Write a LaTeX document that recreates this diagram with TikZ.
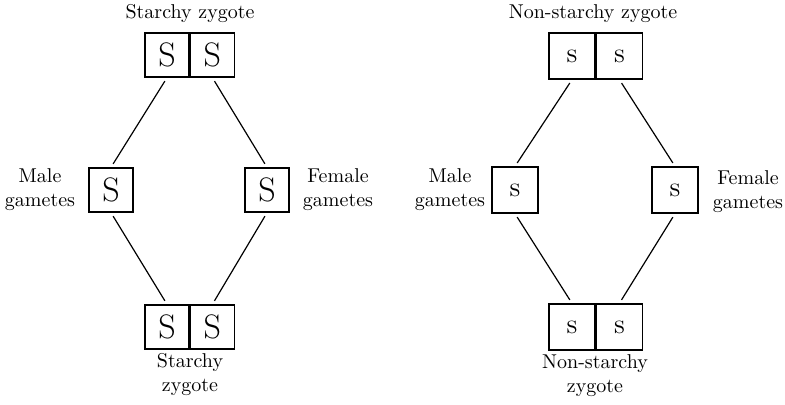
\documentclass[tikz,border=0pt]{standalone}
\usepackage{tikz}
\usetikzlibrary{positioning}

\begin{document}
\begin{tikzpicture}[x=0.5pt, y=-0.5pt,
   cellbox/.style={draw, line width=0.7pt, minimum size=22pt, inner sep=0pt},
   bigS/.style={cellbox, font=\fontsize{17}{17}\selectfont},
   smallS/.style={cellbox, minimum size=23pt, font=\fontsize{14}{14}\selectfont},
   caption/.style={font=\normalsize, align=center},
   link/.style={line width=0.6pt, shorten <=2pt, shorten >=2pt}
]
   \useasboundingbox (0,0) rectangle (785,405);

   % starchy side
   \node[bigS] (tzl) at (167,55) {S};
   \node[bigS, right=0pt of tzl] (tzr) {S};
   \node[bigS] (male) at (111,190) {S};
   \node[bigS] (female) at (267,190) {S};
   \node[bigS] (bzl) at (167,327) {S};
   \node[bigS, right=0pt of bzl] (bzr) {S};

   \node[caption] (ttop) at (190,14) {Starchy zygote};
   \node[caption] (tmale) at (40,190) {Male\\gametes};
   \node[caption] (tfemale) at (338,190) {Female\\gametes};
   \node[caption] (tbot) at (190,375) {Starchy\\zygote};

   \draw[link] (tzl.south) -- (male.north);
   \draw[link] (tzr.south) -- (female.north);
   \draw[link] (male.south) -- (bzl.north);
   \draw[link] (female.south) -- (bzr.north);

   % non-starchy side
   \node[smallS] (ntzl) at (572,56) {s};
   \node[smallS, right=0pt of ntzl] (ntzr) {s};
   \node[smallS] (nmale) at (515,190) {s};
   \node[smallS] (nfemale) at (675,190) {s};
   \node[smallS] (nbzl) at (572,327) {s};
   \node[smallS, right=0pt of nbzl] (nbzr) {s};

   \node[caption] (ntop) at (593,14) {Non-starchy zygote};
   \node[caption] (nmalet) at (450,190) {Male\\gametes};
   \node[caption] (nfemalet) at (748,192) {Female\\gametes};
   \node[caption] (nbot) at (595,376) {Non-starchy\\zygote};

   \draw[link] (ntzl.south) -- (nmale.north);
   \draw[link] (ntzr.south) -- (nfemale.north);
   \draw[link] (nmale.south) -- (nbzl.north);
   \draw[link] (nfemale.south) -- (nbzr.north);

\end{tikzpicture}
\end{document}
